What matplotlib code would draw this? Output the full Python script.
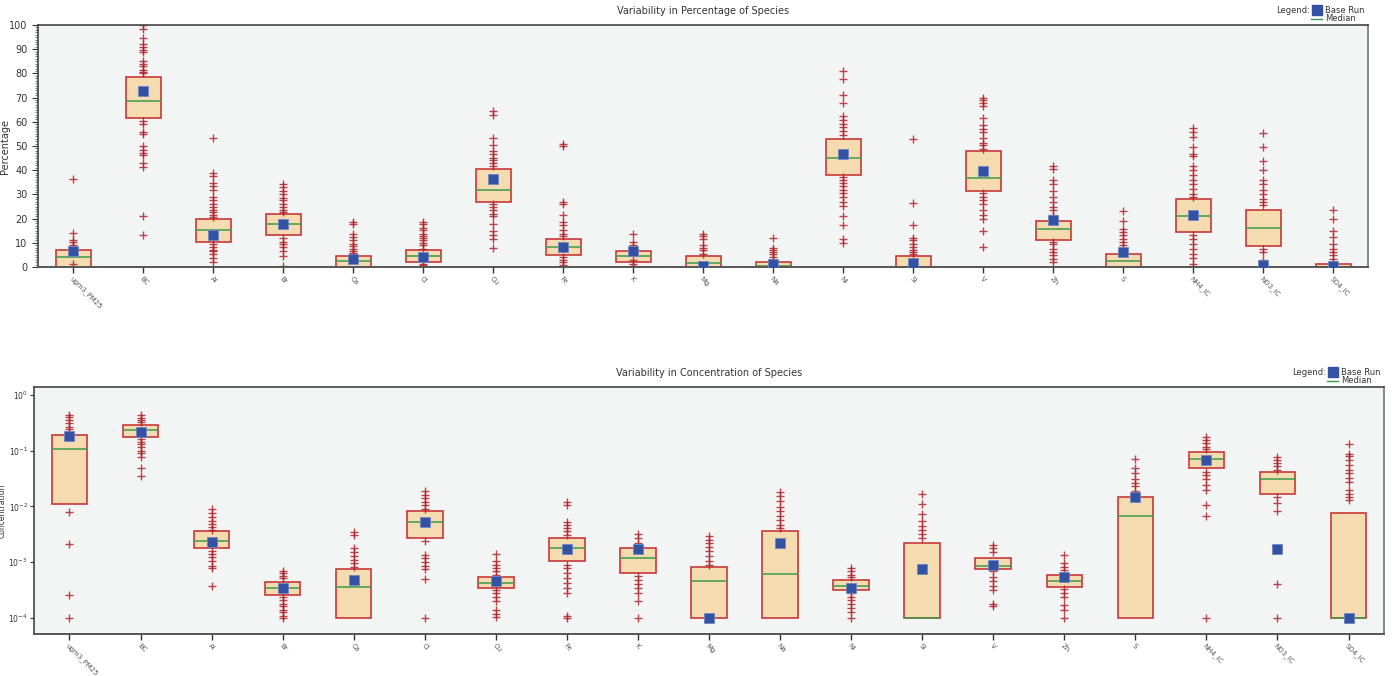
import matplotlib
matplotlib.use('Agg')
import matplotlib.pyplot as plt
from matplotlib.lines import Line2D

species = ['ugm3_PM25', 'BC', 'Al', 'Br', 'Ca', 'Cl', 'Cu', 'Fe', 'K', 'Mg',
           'Na', 'Ni', 'Si', 'V', 'Zn', 'S', 'NH4_IC', 'NO3_IC', 'SO4_IC']

# percentage of species (top panel)
pct_q1 = [0, 61.4, 10.2, 13.4, 0, 2.1, 26.9, 5.1, 2.1, 0,
          0, 37.9, 0, 31.6, 11.3, 0, 14.5, 8.7, 0]
pct_med = [4.3, 68.8, 15.3, 17.7, 2.3, 4.4, 32.0, 8.4, 4.4, 1.7,
           0.4, 45.2, 0, 36.8, 15.6, 2.3, 21.0, 16.3, 0]
pct_q3 = [6.9, 78.6, 19.7, 22.1, 4.7, 6.9, 40.3, 11.7, 6.6, 4.6,
          2.1, 53.1, 4.4, 48.1, 19.2, 5.5, 28.1, 23.7, 1.4]
pct_base = [6.6, 72.6, 13.1, 17.7, 3.3, 4.1, 36.3, 8.3, 6.5, 0.4,
            1.4, 46.9, 1.7, 39.6, 19.3, 6.2, 21.5, 0.7, 0.3]
pct_out = [
    [36.5, 14, 11, 10.2, 9, 8.4, 1.2],
    [100, 98.3, 94.5, 92, 91, 89.7, 89, 85, 84, 83, 81.4, 80.7, 80,
     60.5, 59.3, 55.9, 55, 50, 48.3, 47.2, 46.2, 43, 41.4, 21, 13.4],
    [53.5, 38.9, 37.5, 34.8, 33.4, 32, 29, 27.6, 26.2, 24.8, 23.7, 22.6, 21.4, 20.7,
     9.7, 8.3, 7.2, 6.6, 5.5, 3.9, 2.1],
    [34.5, 33.1, 31.4, 30.3, 28.6, 27.6, 25.9, 24.8, 23.7, 22.8,
     12.1, 10.3, 9.7, 8.3, 6.6, 4.7, 0.4],
    [18.6, 17.7, 13.8, 12.4, 11, 9.7, 8.6, 7.6, 6.6, 5.9, 5.2],
    [18.6, 17.7, 16.3, 15.2, 13.8, 13, 12.1, 11, 10.1, 9, 7.6, 1.4, 0.7],
    [64.4, 63, 53.5, 50.3, 48, 46.9, 45.2, 44.1, 42.8, 41.7,
     25.9, 24.6, 23.4, 22.1, 21, 17.7, 14.9, 13.4, 11.7, 7.9],
    [50.8, 49.9, 26.8, 25.9, 21.7, 18.6, 17.2, 15.2, 13.8, 12.7,
     4.1, 3, 2.1, 0.7],
    [13.5, 10.2, 9, 3, 1.4, 0.4],
    [13.8, 12.7, 11.7, 9, 8, 6.9, 5.5],
    [12.1, 8, 7.2, 6.2, 5.2, 4.1, 3],
    [81, 77.7, 71, 67.6, 62.3, 60.7, 59, 57.9, 56.3, 54.5,
     37.2, 35.9, 34.8, 33.4, 31.7, 30.6, 29, 26.9, 25.1, 21, 17.2, 11.7, 10],
    [53.1, 26.6, 17.2, 12.1, 11, 9.7, 8.3, 7.2, 6.2, 5.2],
    [69.9, 69, 67.6, 66.5, 61.7, 58.6, 57.2, 55.9, 53.5, 51.3, 50.3, 48.9,
     30.6, 29, 27.6, 26.2, 23.4, 21.4, 20, 14.9, 8.3],
    [41.8, 40.3, 35.9, 34.5, 31.4, 29, 26.9, 24.8, 23.4, 21.4,
     10.3, 9.4, 7.6, 6.2, 4.8, 3.4, 2.1],
    [23.3, 18.9, 15.9, 14.5, 13.1, 11.7, 10.3, 9, 7.6],
    [57.5, 55.9, 53.8, 49.7, 46.9, 45.8, 41.8, 40, 37.9, 35.9, 34.2, 32.4, 30.3, 29,
     13.1, 11.4, 9.7, 7.6, 5.5, 3.7, 1.4, 0],
    [55.4, 49.4, 43.9, 40, 35.9, 34.2, 31.7, 30.1, 28.3, 26.9, 25.5, 7.6, 6.2, 3],
    [23.7, 19.7, 14.9, 12.4, 9.7, 7.6, 6.2, 4.8, 3.4, 2.1],
]

# concentration of species (bottom panel)
conc_q1 = [0.011, 0.174, 0.0018, 0.00026, 0.0001, 0.0027, 0.00035, 0.00105, 0.00063, 0.0001,
           0.0001, 0.00031, 0.0001, 0.00075, 0.00036, 0.0001, 0.048, 0.0166, 0.0001]
conc_med = [0.108, 0.235, 0.0024, 0.00034, 0.00036, 0.0052, 0.00042, 0.0018, 0.0012, 0.00046,
            0.00061, 0.00038, 0.0001, 0.00085, 0.00046, 0.0068, 0.072, 0.031, 0.0001]
conc_q3 = [0.19, 0.29, 0.0036, 0.00044, 0.00074, 0.0081, 0.00054, 0.0027, 0.0018, 0.00083,
           0.0036, 0.00048, 0.0022, 0.0012, 0.00058, 0.015, 0.094, 0.041, 0.0075]
conc_base = [0.18, 0.215, 0.0023, 0.00034, 0.00047, 0.0052, 0.00046, 0.0017, 0.0017, 0.0001,
             0.0022, 0.00035, 0.00075, 0.00087, 0.00053, 0.015, 0.068, 0.0017, 0.0001]
conc_out = [
    [0.44, 0.40, 0.36, 0.31, 0.27, 0.24, 0.21, 0.0079, 0.0021, 0.00026, 0.0001],
    [0.43, 0.39, 0.35, 0.32, 0.16, 0.145, 0.13, 0.115, 0.1, 0.09, 0.078, 0.049, 0.035],
    [0.0089, 0.0076, 0.0064, 0.0055, 0.0048, 0.0043, 0.0038,
     0.0016, 0.00142, 0.00124, 0.00104, 0.00085, 0.00077, 0.00037],
    [0.00069, 0.00063, 0.00057, 0.00051, 0.00024, 0.00021, 0.00018, 0.00016,
     0.00014, 0.000125, 0.00011, 0.0001],
    [0.0035, 0.0030, 0.0018, 0.0015, 0.0013, 0.0011, 0.00096, 0.00083],
    [0.0186, 0.016, 0.0139, 0.012, 0.0105, 0.0091, 0.0024, 0.00135, 0.00117,
     0.001, 0.00085, 0.00074, 0.00049, 0.0001],
    [0.00138, 0.00103, 0.00089, 0.00078, 0.00068, 0.00059, 0.00032, 0.00028,
     0.00024, 0.0002, 0.000139, 0.000118, 0.000103],
    [0.0122, 0.0107, 0.0053, 0.0047, 0.0041, 0.0036, 0.0031, 0.00089, 0.00078,
     0.00063, 0.00051, 0.00042, 0.00034, 0.00028, 0.000106, 0.0001],
    [0.0032, 0.0027, 0.0022, 0.00057, 0.00048, 0.00041, 0.00034, 0.00028, 0.0002, 0.0001],
    [0.0029, 0.0025, 0.0022, 0.0019, 0.0016, 0.0013, 0.00105, 0.00088],
    [0.0184, 0.0154, 0.0127, 0.0099, 0.0081, 0.0068, 0.0058, 0.0047, 0.0041],
    [0.00078, 0.00068, 0.00059, 0.00053, 0.00028, 0.00024, 0.00021, 0.00018,
     0.00015, 0.000125, 0.0001],
    [0.0165, 0.011, 0.0074, 0.0054, 0.0045, 0.0037, 0.0032, 0.0027],
    [0.002, 0.0018, 0.0015, 0.00068, 0.00053, 0.00045, 0.00037, 0.00031, 0.000177, 0.00016],
    [0.00135, 0.00097, 0.00083, 0.00072, 0.00033, 0.00028, 0.00024, 0.00017, 0.00014, 0.0001],
    [0.070, 0.049, 0.040, 0.031, 0.026, 0.023, 0.019],
    [0.174, 0.156, 0.136, 0.118, 0.106, 0.042, 0.037, 0.031, 0.024, 0.020,
     0.0104, 0.0068, 0.0001],
    [0.078, 0.068, 0.059, 0.052, 0.045, 0.015, 0.0117, 0.0081, 0.00041, 0.0001],
    [0.13, 0.087, 0.081, 0.068, 0.056, 0.044, 0.039, 0.032, 0.027, 0.0197,
     0.0168, 0.015, 0.013],
]

BOX_FACE = '#f5dcb0'
BOX_EDGE = '#c8383a'
MED_COL = '#3d9a4c'
BASE_COL = '#3452a4'
OUT_COL = '#b0222a'
BG = '#f3f5f4'


def draw_panel(ax, q1, med, q3, base, out, title, ylabel, label_x):
    stats = []
    for i in range(len(species)):
        stats.append({'q1': q1[i], 'med': med[i], 'q3': q3[i],
                      'whislo': q1[i], 'whishi': q3[i],
                      'fliers': out[i], 'label': species[i]})
    pos = list(range(len(species)))
    ax.bxp(stats, positions=pos, widths=0.5, patch_artist=True,
           showcaps=False,
           boxprops=dict(facecolor=BOX_FACE, edgecolor=BOX_EDGE, linewidth=1.2),
           medianprops=dict(color=MED_COL, linewidth=1.1),
           whiskerprops=dict(linewidth=0),
           flierprops=dict(marker='+', markeredgecolor=OUT_COL, markersize=5.5,
                           markeredgewidth=1.0, alpha=0.85, linestyle='none'))
    ax.plot(pos, base, linestyle='none', marker='s', markersize=6.5,
            color=BASE_COL, markeredgecolor='#6f86c4', markeredgewidth=0.6, zorder=5)
    ax.set_facecolor(BG)
    ax.set_xlim(-0.5, len(species) - 0.5)
    ax.set_xticks(pos)
    ax.set_xticklabels(species, rotation=-45, ha='left', rotation_mode='anchor',
                       fontsize=5, color='#555555')
    ax.tick_params(axis='x', length=4, width=1, color='#333333', pad=2)
    ax.tick_params(axis='y', labelsize=7, colors='#333333', length=4)
    ax.set_title(title, fontsize=7, color='#333333', pad=8)
    ax.set_ylabel(ylabel, fontsize=7, color='#333333')
    ax.yaxis.set_label_coords(label_x, 0.5)
    for s in ['top', 'left']:
        ax.spines[s].set_color('#444444')
        ax.spines[s].set_linewidth(1.2)
    for s in ['bottom', 'right']:
        ax.spines[s].set_color('#888888')
        ax.spines[s].set_linewidth(1.4)
    ax.spines['bottom'].set_color('#555555')

    # legend drawn above the axes on the right
    fig = ax.figure
    bb = ax.get_position()
    y0 = bb.y1 + 0.022
    fig.text(bb.x1 - 0.042, y0, 'Legend:', fontsize=6, color='#333333',
             ha='right', va='center')
    fig.add_artist(Line2D([bb.x1 - 0.037], [y0], marker='s', markersize=6.5,
                          color=BASE_COL, linestyle='none', transform=fig.transFigure))
    fig.text(bb.x1 - 0.031, y0, 'Base Run', fontsize=6, color='#333333', va='center')
    fig.add_artist(Line2D([bb.x1 - 0.041, bb.x1 - 0.033], [y0 - 0.013, y0 - 0.013],
                          color=MED_COL, linewidth=1, transform=fig.transFigure))
    fig.text(bb.x1 - 0.031, y0 - 0.013, 'Median', fontsize=6, color='#333333', va='center')


fig = plt.figure(figsize=(13.92, 6.76), dpi=100)
ax1 = fig.add_axes([0.0273, 0.605, 0.9555, 0.358])
ax2 = fig.add_axes([0.0244, 0.0621, 0.9699, 0.3654])

draw_panel(ax1, pct_q1, pct_med, pct_q3, pct_base, pct_out,
           'Variability in Percentage of Species', 'Percentage', -0.021)
ax1.set_ylim(0, 100)
ax1.set_yticks(range(0, 101, 10))
ax1.set_yticks(range(0, 101, 1), minor=True)
ax1.tick_params(axis='y', which='minor', length=2, color='#666666')

draw_panel(ax2, conc_q1, conc_med, conc_q3, conc_base, conc_out,
           'Variability in Concentration of Species', 'Concentration', -0.0205)
ax2.set_yscale('log')
ax2.set_ylim(10 ** -4.29, 10 ** 0.14)
ax2.set_yticks([1e-4, 1e-3, 1e-2, 1e-1, 1])
ax2.minorticks_off()
ax2.tick_params(axis='y', labelsize=5.5, pad=1.5, length=3)
ax2.yaxis.label.set_fontsize(5.5)

fig.savefig('out.png', dpi=100)
